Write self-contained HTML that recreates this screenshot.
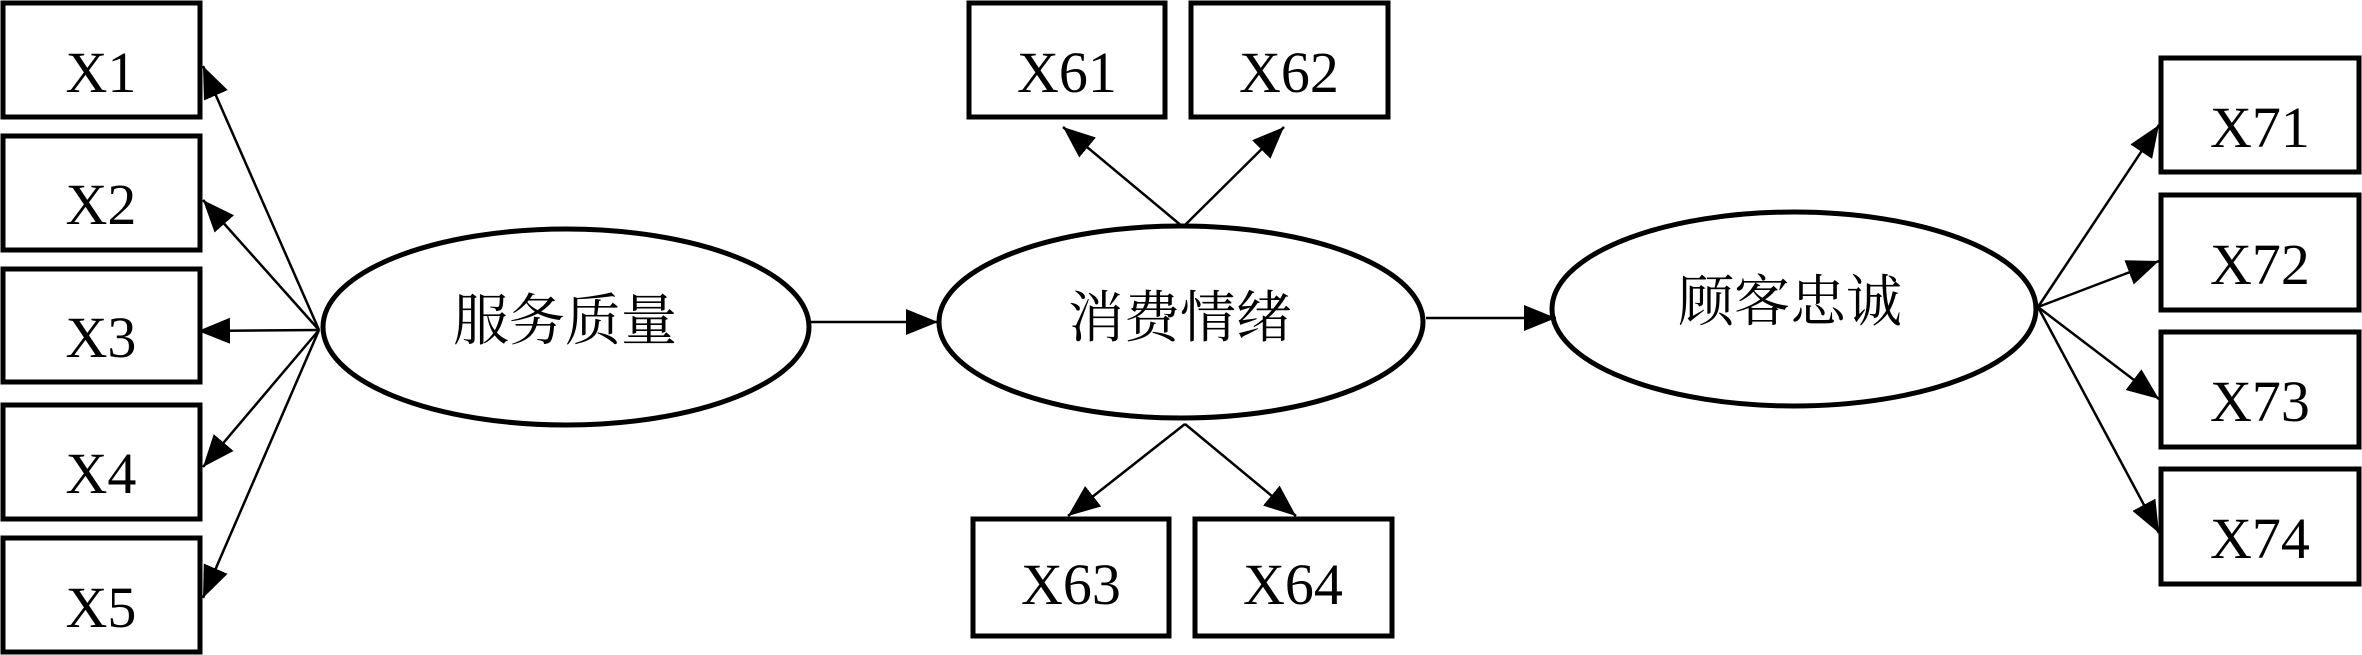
<!DOCTYPE html>
<html><head><meta charset="utf-8"><style>
html,body{margin:0;padding:0;background:#fff;}
svg{display:block;}
text{font-family:"Liberation Serif","Noto Serif CJK SC",serif;fill:#000;}
</style></head><body>
<svg width="2362" height="655" viewBox="0 0 2362 655" xmlns="http://www.w3.org/2000/svg">
<defs>
<marker id="a" markerUnits="userSpaceOnUse" markerWidth="34" markerHeight="28" refX="32" refY="13" orient="auto">
<polygon points="0,0 32,13 0,26" fill="#000"/>
</marker>
</defs>
<g fill="#fff" stroke="#000" stroke-width="5">
<rect x="3" y="3" width="197" height="114"/>
<rect x="3" y="136" width="197" height="114"/>
<rect x="3" y="269" width="197" height="113"/>
<rect x="3" y="405" width="197" height="114"/>
<rect x="3" y="538" width="197" height="114"/>
<rect x="969" y="3" width="196" height="114"/>
<rect x="1191" y="3" width="197" height="114"/>
<rect x="973" y="519" width="196" height="117"/>
<rect x="1195" y="519" width="197" height="117"/>
<rect x="2161" y="58" width="198" height="114"/>
<rect x="2161" y="195" width="198" height="115"/>
<rect x="2161" y="332" width="198" height="115"/>
<rect x="2161" y="469" width="198" height="115"/>
<ellipse cx="566" cy="327" rx="243" ry="98"/>
<ellipse cx="1181" cy="322" rx="242" ry="96"/>
<ellipse cx="1794" cy="309" rx="242" ry="97"/>
</g>
<g stroke="#000" stroke-width="2.5" fill="none" marker-end="url(#a)">
<line x1="319" y1="330" x2="203" y2="66"/>
<line x1="319" y1="330" x2="203" y2="200"/>
<line x1="319" y1="330" x2="198" y2="331"/>
<line x1="319" y1="330" x2="203" y2="467"/>
<line x1="319" y1="330" x2="203" y2="598"/>
<line x1="810" y1="322" x2="938" y2="322"/>
<line x1="1183" y1="227" x2="1063" y2="127"/>
<line x1="1183" y1="227" x2="1284" y2="127"/>
<line x1="1185" y1="424" x2="1068" y2="516"/>
<line x1="1185" y1="424" x2="1296" y2="516"/>
<line x1="1426" y1="318" x2="1556" y2="318"/>
<line x1="2038" y1="307" x2="2159" y2="125"/>
<line x1="2038" y1="307" x2="2159" y2="261"/>
<line x1="2038" y1="307" x2="2159" y2="399"/>
<line x1="2038" y1="307" x2="2159" y2="533"/>
</g>
<g font-size="58" text-anchor="middle">
<text x="101" y="92">X1</text>
<text x="101" y="224">X2</text>
<text x="101" y="357">X3</text>
<text x="101" y="493">X4</text>
<text x="101" y="627">X5</text>
<text x="1067" y="92">X61</text>
<text x="1289" y="92">X62</text>
<text x="1071" y="604">X63</text>
<text x="1293" y="604">X64</text>
<text x="2260" y="147">X71</text>
<text x="2260" y="284">X72</text>
<text x="2260" y="421">X73</text>
<text x="2260" y="558">X74</text>
</g>
<g font-size="56" text-anchor="middle">
<text x="565" y="340">服务质量</text>
<text x="1180" y="337">消费情绪</text>
<text x="1790" y="321">顾客忠诚</text>
</g>
</svg>
</body></html>
